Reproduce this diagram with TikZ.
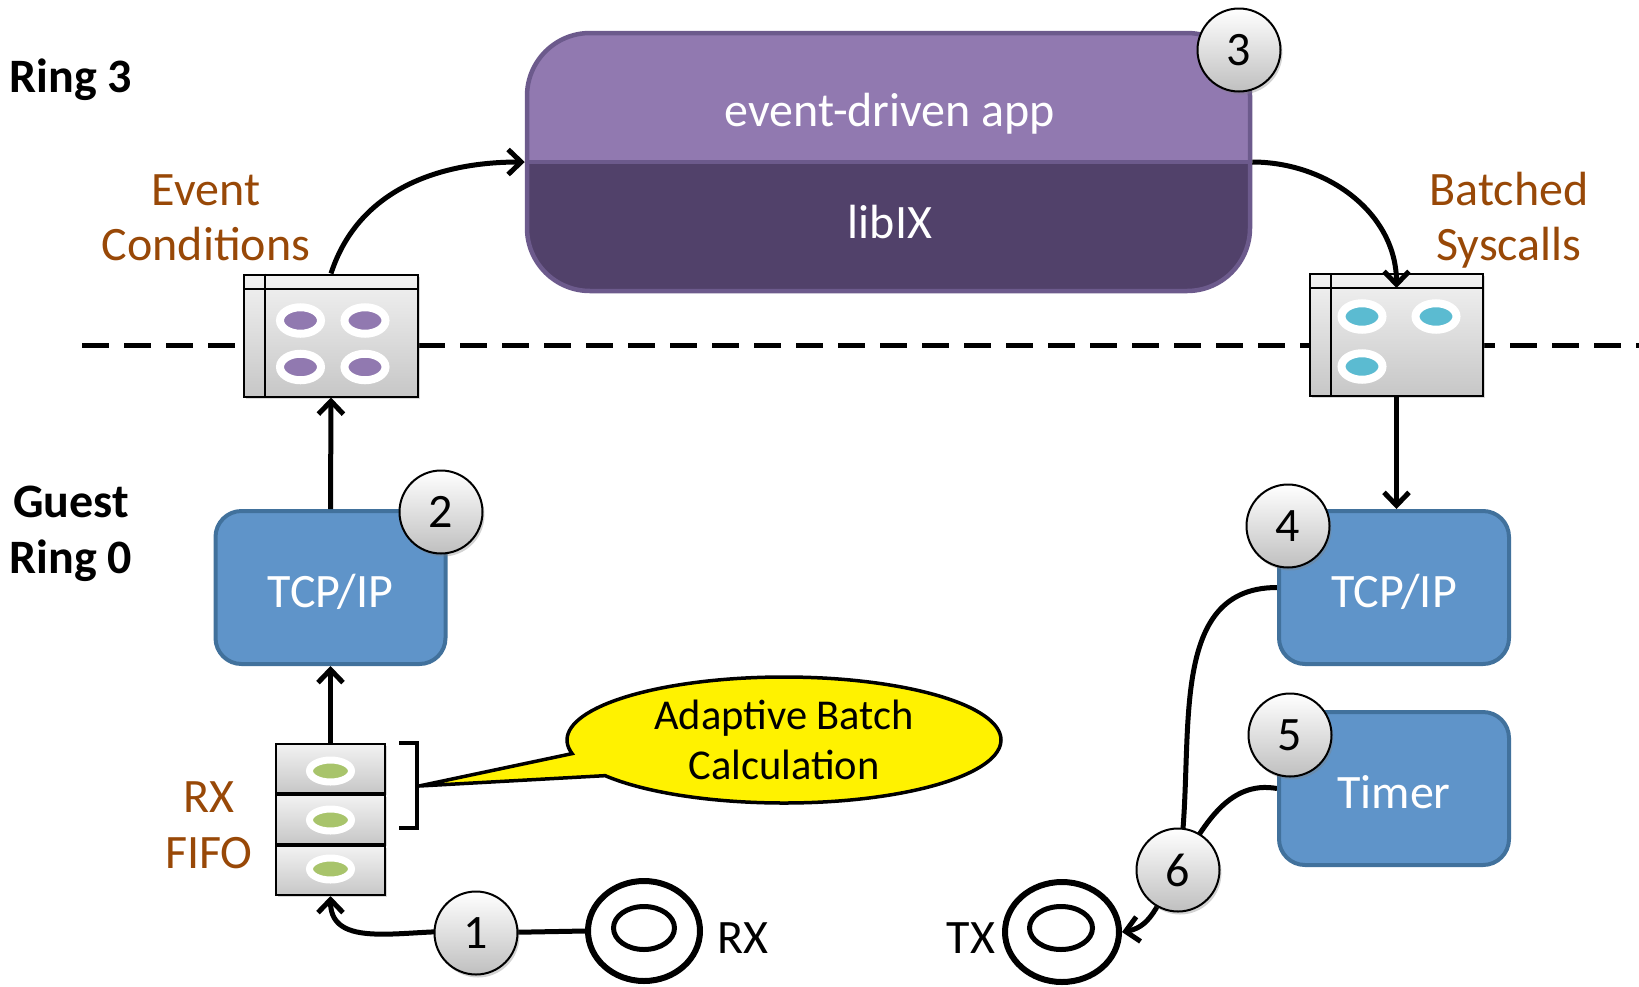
\documentclass[tikz,border=0pt]{standalone}
\usepackage{fontspec}
\setmainfont{Carlito}
\usetikzlibrary{arrows.meta,shapes.geometric,shapes.callouts,shadows,calc,backgrounds}
\definecolor{brn}{HTML}{984807}
\definecolor{tcpfill}{HTML}{5F94C9}
\definecolor{tcpdraw}{HTML}{41719C}
\definecolor{apptop}{HTML}{9179B0}
\definecolor{appbot}{HTML}{51416A}
\definecolor{appdraw}{HTML}{6C5A8C}
\definecolor{evpurple}{HTML}{9179B0}
\definecolor{sysblue}{HTML}{5BBBD1}
\definecolor{fifogreen}{HTML}{A8C46B}
\tikzset{
  big/.style={font=\fontsize{48}{56}\selectfont},
  ringlbl/.style={font=\fontsize{48}{56}\selectfont\bfseries, anchor=base},
  lbl/.style={big, text=brn, anchor=base},
  plainlbl/.style={big, anchor=base},
  conn/.style={line width=5pt, -{Straight Barb[length=13pt,width=25pt]}},
  plainline/.style={line width=5pt},
  sep/.style={line width=5pt, dash pattern=on 27pt off 15pt},
  numc/.style={circle, draw=black, line width=2pt, minimum size=83pt, inner sep=0pt,
    top color=white, bottom color=black!25,
    drop shadow={opacity=0.35, shadow xshift=2pt, shadow yshift=-3pt}, big},
  bluebox/.style={rectangle, rounded corners=26pt, fill=tcpfill, draw=tcpdraw, line width=4pt,
    minimum width=230pt, minimum height=153pt, text=white, big, text height=40pt, text depth=0pt},
  graybox/.style={rectangle, draw=black, line width=2pt, top color=black!5, bottom color=black!22,
    drop shadow={opacity=0.3, shadow xshift=2pt, shadow yshift=-2pt}},
  oval/.style={ellipse, draw=white, line width=8pt, minimum width=41pt, minimum height=26.5pt, inner sep=0pt},
  smalloval/.style={ellipse, draw=white, line width=7pt, minimum width=42pt, minimum height=22pt, inner sep=0pt},
  appbox/.style={rectangle, rounded corners=63pt, fill=appbot, draw=appdraw, line width=4.5pt,
    minimum width=723pt, minimum height=258pt,
    path picture={\fill[apptop, sharp corners] (path picture bounding box.north west) rectangle (path picture bounding box.east);}},
  ringout/.style={ellipse, draw=black, line width=6pt, inner sep=0pt},
  ringin/.style={ellipse, draw=black, line width=5pt, inner sep=0pt},
}
\begin{document}
\begin{tikzpicture}[x=1pt,y=1pt]
\useasboundingbox (0,0) rectangle (1639,-986);

% side labels
\node[ringlbl] (r3) at (71,-92) {Ring 3};
\node[ringlbl] (g0a) at (71,-517) {Guest};
\node[ringlbl] (g0b) at (71,-573) {Ring 0};
\node[lbl] (ec1) at (206,-205) {Event};
\node[lbl] (ec2) at (206,-260) {Conditions};
\node[lbl] (bs1) at (1509,-205) {Batched};
\node[lbl] (bs2) at (1509,-260) {Syscalls};
\node[lbl] (ff1) at (209,-812) {RX};
\node[lbl] (ff2) at (209,-868) {FIFO};

% application box
\node[appbox] (app) at (888.5,-162) {};
\draw[appdraw, line width=4.5pt] (app.west) -- (app.east);
\node[plainlbl, text=white] (appt) at (890,-126) {event-driven app};
\node[plainlbl, text=white] (libx) at (890,-238) {libIX};

% gray boxes
\node[graybox, minimum width=174pt, minimum height=122pt] (ev) at (331,-335.5) {};
\draw[line width=2pt] ([yshift=-15pt]ev.north west) -- ([yshift=-15pt]ev.north east);
\draw[line width=2pt] ([xshift=22pt]ev.north west) -- ([xshift=22pt]ev.south west);
\node[oval, fill=evpurple] (ev1) at (300.5,-320.5) {};
\node[oval, fill=evpurple] (ev2) at (365,-320.5) {};
\node[oval, fill=evpurple] (ev3) at (300.5,-367) {};
\node[oval, fill=evpurple] (ev4) at (365,-367) {};

\node[graybox, minimum width=173pt, minimum height=122pt] (bs) at (1396.5,-335) {};
\draw[line width=2pt] ([yshift=-15pt]bs.north west) -- ([yshift=-15pt]bs.north east);
\draw[line width=2pt] ([xshift=22pt]bs.north west) -- ([xshift=22pt]bs.south west);
\node[oval, fill=sysblue] (bs1o) at (1362,-316.5) {};
\node[oval, fill=sysblue] (bs2o) at (1436,-316.5) {};
\node[oval, fill=sysblue] (bs3o) at (1362,-366.5) {};

% FIFO
\node[graybox, minimum width=109pt, minimum height=49pt] (f1) at (330.5,-768.5) {};
\node[graybox, minimum width=109pt, minimum height=49pt] (f2) at (330.5,-819.5) {};
\node[graybox, minimum width=109pt, minimum height=49pt] (f3) at (330.5,-870.5) {};
\node[smalloval, fill=fifogreen] (fo1) at (330.5,-771) {};
\node[smalloval, fill=fifogreen] (fo2) at (330.5,-820) {};
\node[smalloval, fill=fifogreen] (fo3) at (330.5,-869) {};

% blue boxes
\node[bluebox] (tcp1) at (330.5,-587.5) {TCP/IP};
\node[bluebox] (tcp2) at (1394,-587.5) {TCP/IP};
\node[bluebox] (timer) at (1394,-788.5) {Timer};

% bracket and callout
\draw[line width=4.5pt] (399,-743) -- (417,-743) -- (417,-828) -- (399,-828);
\coordinate (brk) at (419,-786);
\node[ellipse callout, draw=black, line width=3.5pt, fill=yellow, minimum width=434pt, minimum height=126pt,
  callout absolute pointer={(brk)}, callout pointer arc=22, align=center,
  font=\fontsize{42.5}{50}\selectfont] (callout) at (784,-740) {Adaptive Batch\\Calculation};

% RX / TX rings
\node[ringout, minimum width=112pt, minimum height=100pt] (rxo) at (644,-931) {};
\node[ringin, minimum width=61pt, minimum height=43pt] (rxi) at (644,-928) {};
\node[plainlbl] (rxl) at (743,-953) {RX};
\node[ringout, minimum width=114pt, minimum height=100pt] (txo) at (1062,-932) {};
\node[ringin, minimum width=63pt, minimum height=43pt] (txi) at (1061,-928) {};
\node[plainlbl] (txl) at (971,-953) {TX};

% numbered circles
\node[numc] (c1) at (476,-933) {1};
\node[numc] (c2) at (441,-512) {2};
\node[numc] (c3) at (1239,-50) {3};
\node[numc] (c4) at (1288,-526) {4};
\node[numc] (c5) at (1290,-735) {5};
\node[numc] (c6) at (1178,-870) {6};

% background: separator and lines running under circles
\begin{pgfonlayer}{background}
\draw[sep] (82,-345) -- (1639,-345);
\draw[conn] (rxo.west) -- (c1.center) to[out=172, in=-90] (f3.south);
\draw[plainline] (tcp2.west) to[out=180, in=80] (c6.center);
\draw[plainline] (timer.west) to[out=170, in=60] (c6.center);
\draw[conn] (c6.center) to[out=235, in=10] (txo.east);
\end{pgfonlayer}

% foreground connectors
\draw[conn] (f1.north) -- (tcp1.south);
\draw[conn] (tcp1.north) -- (ev.south);
\draw[conn] (ev.north) to[out=72, in=180] (app.west);
\draw[conn] (app.east) to[out=0, in=90] ([yshift=-15pt]bs.north);
\draw[conn] (bs.south) -- (bs.south |- tcp2.north);
\end{tikzpicture}
\end{document}
